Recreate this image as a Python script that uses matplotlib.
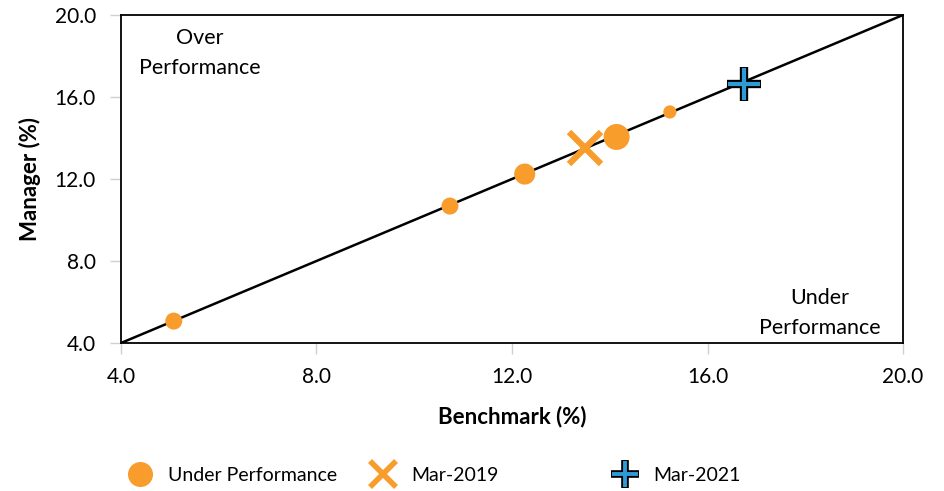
import matplotlib.pyplot as plt
from matplotlib.lines import Line2D

plt.rcParams['font.family'] = ['Lato', 'DejaVu Sans']

# data
bench = [5.08, 10.73, 12.26, 14.14, 15.23]
manager = [5.07, 10.68, 12.24, 14.05, 15.27]
weight = [150, 150, 230, 350, 90]
mar2019 = (13.49, 13.51)
mar2021 = (16.74, 16.63)
ticks = [4.0, 8.0, 12.0, 16.0, 20.0]

orange = '#F89C2C'
blue = '#2E9BD6'

fig = plt.figure(figsize=(9.45, 4.91), dpi=100)
ax = fig.add_axes([0.128, 0.3014, 0.8276, 0.6681])

ax.plot([4, 20], [4, 20], color='black', lw=1.8, zorder=2)
ax.scatter(bench, manager, s=weight, color=orange, edgecolors='none', zorder=3)
ax.plot(*mar2019, marker='x', ms=23, mew=4.5, color=orange, ls='none', zorder=4)
ax.plot(*mar2021, marker='+', ms=25, mew=6, color='black', ls='none', zorder=4)
ax.plot(*mar2021, marker='+', ms=23.5, mew=3, color=blue, ls='none', zorder=5)

ax.set_xlim(4, 20)
ax.set_ylim(4, 20)
ax.set_xticks(ticks)
ax.set_yticks(ticks)
ax.set_xticklabels([f'{t:.1f}' for t in ticks])
ax.set_yticklabels([f'{t:.1f}' for t in ticks])
ax.tick_params(length=8, width=1, color='#D0D0D0', labelsize=15)
ax.tick_params(axis='x', pad=9)
ax.tick_params(axis='y', pad=10)
for s in ax.spines.values():
    s.set_linewidth(1.3)

ax.set_xlabel('Benchmark (%)', fontsize=16, fontweight='bold', labelpad=14)
ax.set_ylabel('Manager (%)', fontsize=16, fontweight='bold', labelpad=10)

ax.text(5.62, 18.15, 'Over\nPerformance', ha='center', va='center', fontsize=15.5, linespacing=1.6)
ax.text(18.29, 5.45, 'Under\nPerformance', ha='center', va='center', fontsize=15.5, linespacing=1.6)

# legend: three equally spaced entries
h1 = Line2D([], [], marker='o', ms=17, color=orange, ls='none')
h2 = Line2D([], [], marker='x', ms=19, mew=4, color=orange, ls='none')
h3 = [Line2D([], [], marker='+', ms=20, mew=5.5, color='black', ls='none'),
      Line2D([], [], marker='+', ms=18.5, mew=2.8, color=blue, ls='none')]
for xpos, h, lab in [(0.114, h1, 'Under Performance'),
                     (0.371, h2, 'Mar-2019'),
                     (0.627, tuple(h3), 'Mar-2021')]:
    fig.legend([h], [lab], loc='center left', bbox_to_anchor=(xpos, 0.032),
               frameon=False, fontsize=14, handlelength=1.5, handletextpad=0.7)

fig.savefig('out.png', dpi=100)
